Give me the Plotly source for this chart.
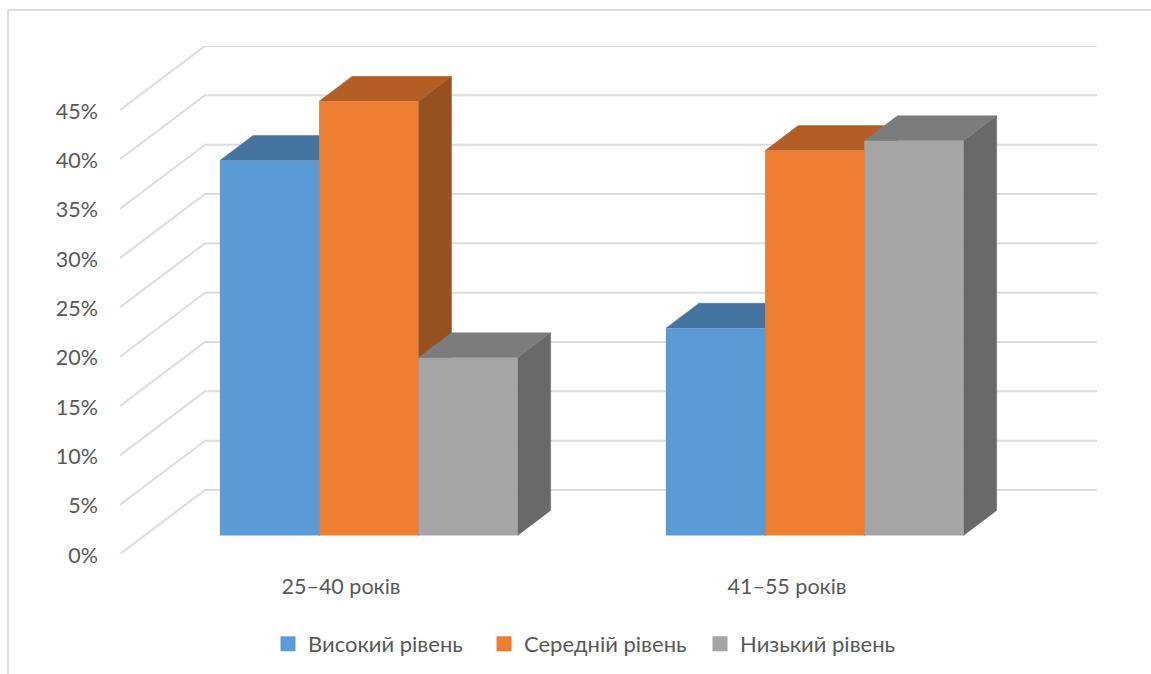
import plotly.graph_objects as go

categories = ["25–40 років", "41–55 років"]
series_names = ["Високий рівень", "Середній рівень", "Низький рівень"]
high_level = [38, 21]
middle_level = [44, 39]
low_level = [18, 40]
y_ticks = [0, 5, 10, 15, 20, 25, 30, 35, 40, 45]
y_tick_labels = ["0%", "5%", "10%", "15%", "20%", "25%", "30%", "35%", "40%", "45%"]

front_colors = ["#5B9BD5", "#ED7D31", "#A5A5A5"]
top_colors = ["#44749F", "#B25E25", "#7C7C7C"]
side_colors = ["#3A6387", "#97501F", "#696969"]
GRID = "#DDDDDD"
TEXT = "#595959"
FONT = "Lato"
AXIS_FONT_SIZE = 21.5
LEGEND_FONT_SIZE = 22

# Pixel scale of the plot area: one category spans 446 px, one percent 9.867 px.
PX_X = 446.0
PX_Y = 9.867
WIDTH, HEIGHT = 1151, 674
LEFT, RIGHT_EDGE, TOP, BOTTOM_EDGE = 120, 1097, 46, 554

# Oblique projection of the chart floor, in axis units.
FLOOR_DX = 85 / PX_X
FLOOR_DY = 64 / PX_Y
BAR_START = 0.30   # where the bar fronts sit along the floor depth
BAR_DEPTH = 0.39   # how much of the floor depth a bar occupies
BAR_WIDTH = 99.2 / PX_X

x_range = [(LEFT - 343) / PX_X, (RIGHT_EDGE - 343) / PX_X]
y_range = [0, (BOTTOM_EDGE - TOP) / PX_Y]

fig = go.Figure()

# Floor-edge and back-wall gridlines
grid_x, grid_y = [], []
for v in y_ticks:
    grid_x += [x_range[0], x_range[0] + FLOOR_DX, x_range[1], None]
    grid_y += [v, v + FLOOR_DY, v + FLOOR_DY, None]
fig.add_trace(go.Scatter(x=grid_x, y=grid_y, mode="lines", showlegend=False, hoverinfo="skip",
                         line=dict(color=GRID, width=2), zorder=-1))

x_shift = (BAR_START * FLOOR_DX) + 0.2 / PX_X
y_shift = (BAR_START * FLOOR_DY) - 0.06
dx = BAR_DEPTH * FLOOR_DX
dy = BAR_DEPTH * FLOOR_DY

for i, (name, values) in enumerate(zip(series_names, [high_level, middle_level, low_level])):
    centers = [c + x_shift + (i - 1) * BAR_WIDTH for c in range(len(categories))]
    side_x, side_y, top_x, top_y = [], [], [], []
    for c, v in zip(centers, values):
        l, r = c - BAR_WIDTH / 2, c + BAR_WIDTH / 2
        y0, y1 = y_shift, y_shift + v
        side_x += [r, r + dx, r + dx, r, r, None]
        side_y += [y0, y0 + dy, y1 + dy, y1, y0, None]
        top_x += [l, l + dx, r + dx, r, l, None]
        top_y += [y1, y1 + dy, y1 + dy, y1, y1, None]
    fig.add_trace(go.Scatter(x=side_x, y=side_y, mode="lines", fill="toself", fillcolor=side_colors[i],
                             line=dict(color=side_colors[i], width=0.5), showlegend=False,
                             hoverinfo="skip", zorder=3 * i))
    fig.add_trace(go.Scatter(x=top_x, y=top_y, mode="lines", fill="toself", fillcolor=top_colors[i],
                             line=dict(color=top_colors[i], width=0.5), showlegend=False,
                             hoverinfo="skip", zorder=3 * i + 1))
    fig.add_trace(go.Bar(x=centers, y=values, base=y_shift, width=BAR_WIDTH, name=name,
                         legendgroup=name, showlegend=False,
                         marker=dict(color=front_colors[i], line=dict(width=0)),
                         zorder=3 * i + 2))
    # Square legend key for the series
    fig.add_trace(go.Scatter(x=[None], y=[None], mode="markers", name=name, legendgroup=name,
                             marker=dict(symbol="square", size=15, color=front_colors[i])))

# Chart frame: only the top and left edges are visible on the page
frame_left = (8 - LEFT) / (RIGHT_EDGE - LEFT)
frame_top = (BOTTOM_EDGE - 10) / (BOTTOM_EDGE - TOP)
frame_right = (WIDTH - LEFT) / (RIGHT_EDGE - LEFT)
frame_bottom = (BOTTOM_EDGE - HEIGHT) / (BOTTOM_EDGE - TOP)
frame_line = dict(color=GRID, width=2)
shapes = [
    dict(type="line", xref="paper", yref="paper", x0=frame_left, x1=frame_right, y0=frame_top, y1=frame_top, line=frame_line),
    dict(type="line", xref="paper", yref="paper", x0=frame_left, x1=frame_left, y0=frame_top, y1=frame_bottom, line=frame_line),
]

fig.update_layout(
    width=WIDTH, height=HEIGHT,
    margin=dict(l=LEFT, r=WIDTH - RIGHT_EDGE, t=TOP, b=HEIGHT - BOTTOM_EDGE, autoexpand=False),
    paper_bgcolor="white", plot_bgcolor="rgba(0,0,0,0)",
    barmode="overlay",
    font=dict(family=FONT, size=AXIS_FONT_SIZE, color=TEXT),
    shapes=shapes,
    showlegend=True,
    legend=dict(orientation="h", x=(268 - LEFT) / (RIGHT_EDGE - LEFT), xanchor="left",
                y=(BOTTOM_EDGE - 644) / (BOTTOM_EDGE - TOP), yanchor="middle",
                entrywidth=171, entrywidthmode="pixels", traceorder="normal",
                font=dict(family=FONT, size=LEGEND_FONT_SIZE, color=TEXT), bgcolor="rgba(0,0,0,0)"),
)
fig.update_xaxes(range=x_range, tickvals=list(range(len(categories))), ticktext=categories,
                 showgrid=False, zeroline=False, showline=False, ticks="", ticklabelstandoff=17,
                 ticklabelshift=-2,
                 tickfont=dict(family=FONT, size=AXIS_FONT_SIZE, color=TEXT), fixedrange=True)
fig.update_yaxes(range=y_range, tickvals=y_ticks, ticktext=y_tick_labels, showgrid=False, zeroline=False,
                 showline=False, ticks="", ticklabelstandoff=21, ticklabelshift=1,
                 tickfont=dict(family=FONT, size=AXIS_FONT_SIZE, color=TEXT), fixedrange=True)

fig.write_html("out.html", config=dict(displayModeBar=False))
